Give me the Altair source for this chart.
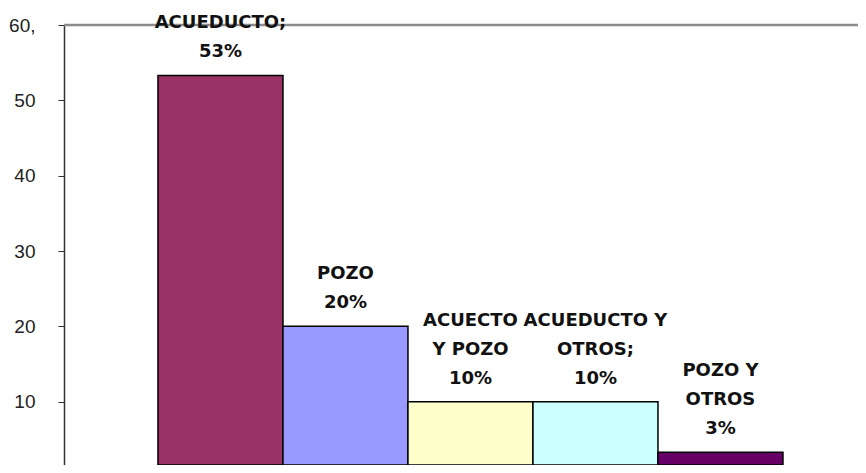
import altair as alt
import pandas as pd

categories = ["ACUEDUCTO", "POZO", "ACUECTO Y POZO", "ACUEDUCTO Y OTROS", "POZO Y OTROS"]
values = [53.3, 20.0, 10.0, 10.0, 3.3]
label_lines = [["ACUEDUCTO;", "53%"], ["POZO", "20%"], ["ACUECTO", "Y POZO", "10%"],
               ["ACUEDUCTO Y", "OTROS;", "10%"], ["POZO Y", "OTROS", "3%"]]
colors = ["#993366", "#9999FF", "#FFFFCC", "#CCFFFF", "#660066"]
y_ticks = [10, 20, 30, 40, 50, 60]
y_top = 60

df = pd.DataFrame({"cat": categories, "val": values, "col": colors})

rows = []
for c, v, lines in zip(categories, values, label_lines):
    for k, t in enumerate(reversed(lines)):
        rows.append({"cat": c, "val": v, "k": k, "t": t})
lab_df = pd.DataFrame(rows)

x = alt.X("cat:N", sort=categories, axis=None,
          scale=alt.Scale(paddingInner=0, paddingOuter=0.676, align=0.556))
y_scale = alt.Scale(domain=[1.6, 60], nice=False, zero=False)

bars = alt.Chart(df).mark_bar(stroke="#000000", strokeWidth=1.5, clip=True).encode(
    x=x,
    y=alt.Y("val:Q", scale=y_scale, axis=alt.Axis(
        values=y_ticks, grid=False, title=None, domainColor="#333333", domainWidth=1.5,
        tickColor="#333333", tickSize=6, labelFontSize=19, labelFont="Liberation Sans",
        labelColor="#222222", labelPadding=23,
        labelExpr="datum.value == 60 ? '60,' : datum.label")),
    y2=alt.datum(1.6),
    color=alt.Color("col:N", scale=None),
)

text_layers = []
for k in range(3):
    text_layers.append(
        alt.Chart(lab_df).transform_filter(alt.datum.k == k).mark_text(
            baseline="bottom", dy=-14 - 29 * k, fontWeight="bold", fontSize=18,
            font="DejaVu Sans", color="#111111"
        ).encode(x=x, y=alt.Y("val:Q", scale=y_scale), text="t:N")
    )

top_line = alt.Chart(pd.DataFrame({"v": [y_top]})).mark_rule(
    color="#8c8c8c", strokeWidth=2.5
).encode(
    y=alt.Y("v:Q", scale=y_scale),
    x=alt.value(0),
    x2=alt.value(794),
)

chart = alt.layer(top_line, bars, *text_layers).properties(
    width=794, height=440,
    autosize=alt.AutoSizeParams(type="none"),
    padding={"left": 56, "top": 17, "right": 0, "bottom": 0},
).configure_view(stroke=None).configure(background="white")

chart.save("out.html", embed_options={"renderer": "svg", "actions": False})
